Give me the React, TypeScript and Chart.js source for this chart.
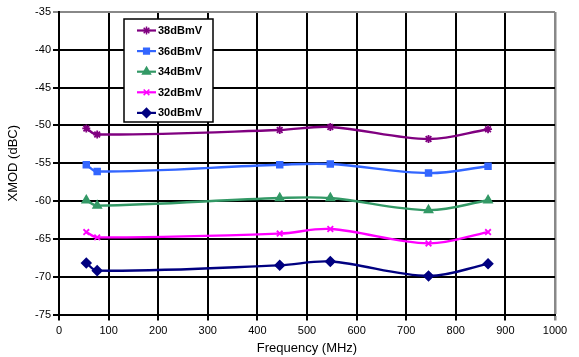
import React, { useEffect, useRef } from 'react';
import { Chart, registerables } from 'chart.js';
import { drawPoint } from 'chart.js/helpers';

Chart.register(...registerables);

const frequencies = [55, 77, 445, 547, 745, 865];
const seriesLabels = ['38dBmV', '36dBmV', '34dBmV', '32dBmV', '30dBmV'];
const xmod38 = [-50.4, -51.2, -50.6, -50.2, -51.8, -50.5];
const xmod36 = [-55.2, -56.1, -55.2, -55.1, -56.3, -55.4];
const xmod34 = [-59.9, -60.6, -59.6, -59.6, -61.2, -59.9];
const xmod32 = [-64.1, -64.8, -64.3, -63.7, -65.6, -64.1];
const xmod30 = [-68.2, -69.2, -68.5, -68.0, -69.9, -68.3];
const seriesValues = [xmod38, xmod36, xmod34, xmod32, xmod30];
const seriesColors = ['#800080', '#3366FF', '#339966', '#FF00FF', '#000080'];
const seriesMarkers = ['star', 'rect', 'triangle', 'crossRot', 'rectRot'];
const seriesRadius = [4, 4, 4.5, 4, 4.5];
const xTicksMin = 0, xTicksMax = 1000, xStep = 100;
const yTicksMin = -75, yTicksMax = -35, yStep = 5;

const FONT = "'Liberation Sans', Arial, sans-serif";

const legendPlugin = {
  id: 'boxLegend',
  afterDraw(chart: any) {
    const ctx = chart.ctx;
    const ca = chart.chartArea;
    const left = ca.left + 65;
    const top = ca.top + 7;
    const w = 89;
    const h = 103;
    ctx.save();
    ctx.fillStyle = '#fff';
    ctx.fillRect(left, top, w, h);
    ctx.strokeStyle = '#000';
    ctx.lineWidth = 1.5;
    ctx.strokeRect(left, top, w, h);
    chart.data.datasets.forEach((ds: any, i: number) => {
      const y = top + 11.5 + i * 20.6;
      ctx.strokeStyle = ds.borderColor;
      ctx.lineWidth = 2.2;
      ctx.beginPath();
      ctx.moveTo(left + 13, y);
      ctx.lineTo(left + 32, y);
      ctx.stroke();
      ctx.fillStyle = ds.borderColor;
      ctx.strokeStyle = ds.borderColor;
      ctx.lineWidth = 1.5;
      drawPoint(ctx, { pointStyle: ds.pointStyle, radius: ds.pointRadius, rotation: 0, borderWidth: 1.5 }, left + 22.5, y);
      ctx.fillStyle = '#000';
      ctx.font = `bold 11px ${FONT}`;
      ctx.textBaseline = 'middle';
      ctx.textAlign = 'left';
      ctx.fillText(ds.label, left + 34, y + 0.5);
    });
    ctx.restore();
  },
};

export default function App() {
  const ref = useRef<HTMLCanvasElement>(null);
  useEffect(() => {
    document.body.style.margin = '0';
    const canvas = ref.current!;
    const chart = new Chart(canvas, {
      type: 'line',
      data: {
        datasets: seriesLabels.map((label, i) => ({
          label,
          data: frequencies.map((f, j) => ({ x: f, y: seriesValues[i][j] })),
          borderColor: seriesColors[i],
          backgroundColor: seriesColors[i],
          pointBackgroundColor: seriesColors[i],
          pointBorderColor: seriesColors[i],
          pointStyle: seriesMarkers[i] as any,
          pointRadius: seriesRadius[i],
          pointBorderWidth: 1.8,
          borderWidth: 2.4,
          tension: 0.35,
          fill: false,
        })),
      },
      options: {
        animation: false,
        responsive: false,
        layout: { padding: { left: 0, right: 24, top: 12, bottom: 0 } },
        plugins: {
          legend: { display: false },
          tooltip: { enabled: false },
        },
        scales: {
          x: {
            type: 'linear',
            min: xTicksMin,
            max: xTicksMax,
            ticks: { stepSize: xStep, color: '#000', font: { family: FONT, size: 11 }, padding: 4, maxRotation: 0, callback: (v: any) => String(v) },
            grid: {
              color: (c: any) => (c.tick && c.tick.value === xTicksMax ? '#888' : '#000'),
              lineWidth: (c: any) => (c.tick && c.tick.value === xTicksMax ? 2.5 : 2),
              tickLength: 6,
              drawTicks: true,
            },
            border: { color: '#000', width: 2 },
            title: { display: true, text: 'Frequency (MHz)', color: '#000', font: { family: FONT, size: 13 }, padding: { top: 0, bottom: 1 } },
            afterFit: (s: any) => { s.height = 42.5; },
          },
          y: {
            type: 'linear',
            min: yTicksMin,
            max: yTicksMax,
            ticks: { stepSize: yStep, color: '#000', font: { family: FONT, size: 11 }, padding: 2, callback: (v: any) => String(v) },
            grid: {
              color: (c: any) => (c.tick && c.tick.value === yTicksMax ? '#888' : '#000'),
              lineWidth: (c: any) => (c.tick && c.tick.value === yTicksMax ? 2 : 2),
              tickLength: 6,
              drawTicks: true,
            },
            border: { color: '#000', width: 2 },
            title: { display: true, text: 'XMOD (dBC)', color: '#000', font: { family: FONT, size: 13 }, padding: { top: 6, bottom: 0 } },
            afterFit: (s: any) => { s.width = 59; },
          },
        },
      },
      plugins: [legendPlugin],
    } as any);
    return () => chart.destroy();
  }, []);
  return (
    <div style={{ width: 579, height: 357, background: '#fff' }}>
      <canvas ref={ref} width={579} height={357} />
    </div>
  );
}
